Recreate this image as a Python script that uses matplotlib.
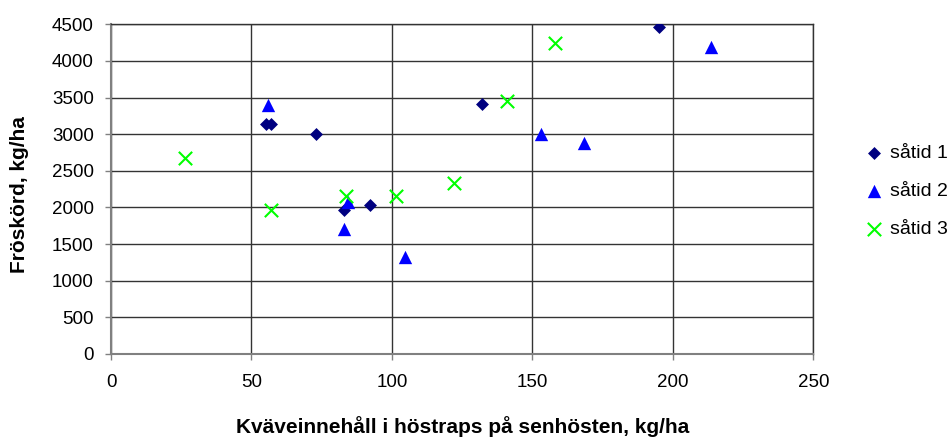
import matplotlib
matplotlib.use("Agg")
import matplotlib.pyplot as plt

plt.rcParams['font.family'] = ['Liberation Sans', 'DejaVu Sans']

# Data
s1_x = [55, 57, 73, 132, 195, 83, 92]
s1_y = [3140, 3140, 3000, 3410, 4470, 1960, 2040]
s2_x = [56, 213.5, 153, 168.5, 83, 84.5, 104.5]
s2_y = [3400, 4190, 3000, 2880, 1700, 2080, 1320]
s3_x = [26.5, 83.5, 57, 101.5, 122, 141, 158]
s3_y = [2670, 2150, 1960, 2150, 2330, 3460, 4250]
labels = ["såtid 1", "såtid 2", "såtid 3"]
x_ticks = [0, 50, 100, 150, 200, 250]
y_ticks = list(range(0, 4501, 500))

fig = plt.figure(figsize=(9.52, 4.38), dpi=100)
ax = fig.add_axes([0.1166, 0.1918, 0.7379, 0.7527])

ax.scatter(s1_x, s1_y, marker='D', s=6.6**2, color='#000080', label=labels[0], zorder=3, linewidths=0)
ax.scatter(s2_x, s2_y, marker='^', s=9.6**2, color='#0000FF', label=labels[1], zorder=3, linewidths=0)
ax.scatter(s3_x, s3_y, marker='x', s=9.6**2, color='#00FF00', label=labels[2], zorder=3, linewidths=1.5)

ax.set_xlim(0, 250)
ax.set_ylim(0, 4500)
ax.set_xticks(x_ticks)
ax.set_yticks(y_ticks)
ax.grid(True, color='#333333', linewidth=1.0)
ax.set_axisbelow(True)
for side in ['top', 'right']:
    ax.spines[side].set_color('#333333')
    ax.spines[side].set_linewidth(1.0)
for side in ['left', 'bottom']:
    ax.spines[side].set_color('#808080')
    ax.spines[side].set_linewidth(1.5)
ax.tick_params(axis='both', direction='out', length=4.3, width=1, color='#808080',
               labelsize=13.5)
ax.tick_params(axis='y', pad=8)
ax.tick_params(axis='x', pad=10)

ax.set_xlabel("Kväveinnehåll i höstraps på senhösten, kg/ha", fontsize=15,
              fontweight='bold', va='top')
ax.xaxis.set_label_coords(0.5, -0.188)
ax.set_ylabel("Fröskörd, kg/ha", fontsize=15, fontweight='bold')
ax.yaxis.set_label_coords(-0.117, 0.485)

leg = ax.legend(loc='center left', bbox_to_anchor=(1.055, 0.493), frameon=False,
                fontsize=14, handletextpad=0.15, labelspacing=1.05, handlelength=1.4,
                borderaxespad=0)

fig.savefig("out.png", dpi=100)
